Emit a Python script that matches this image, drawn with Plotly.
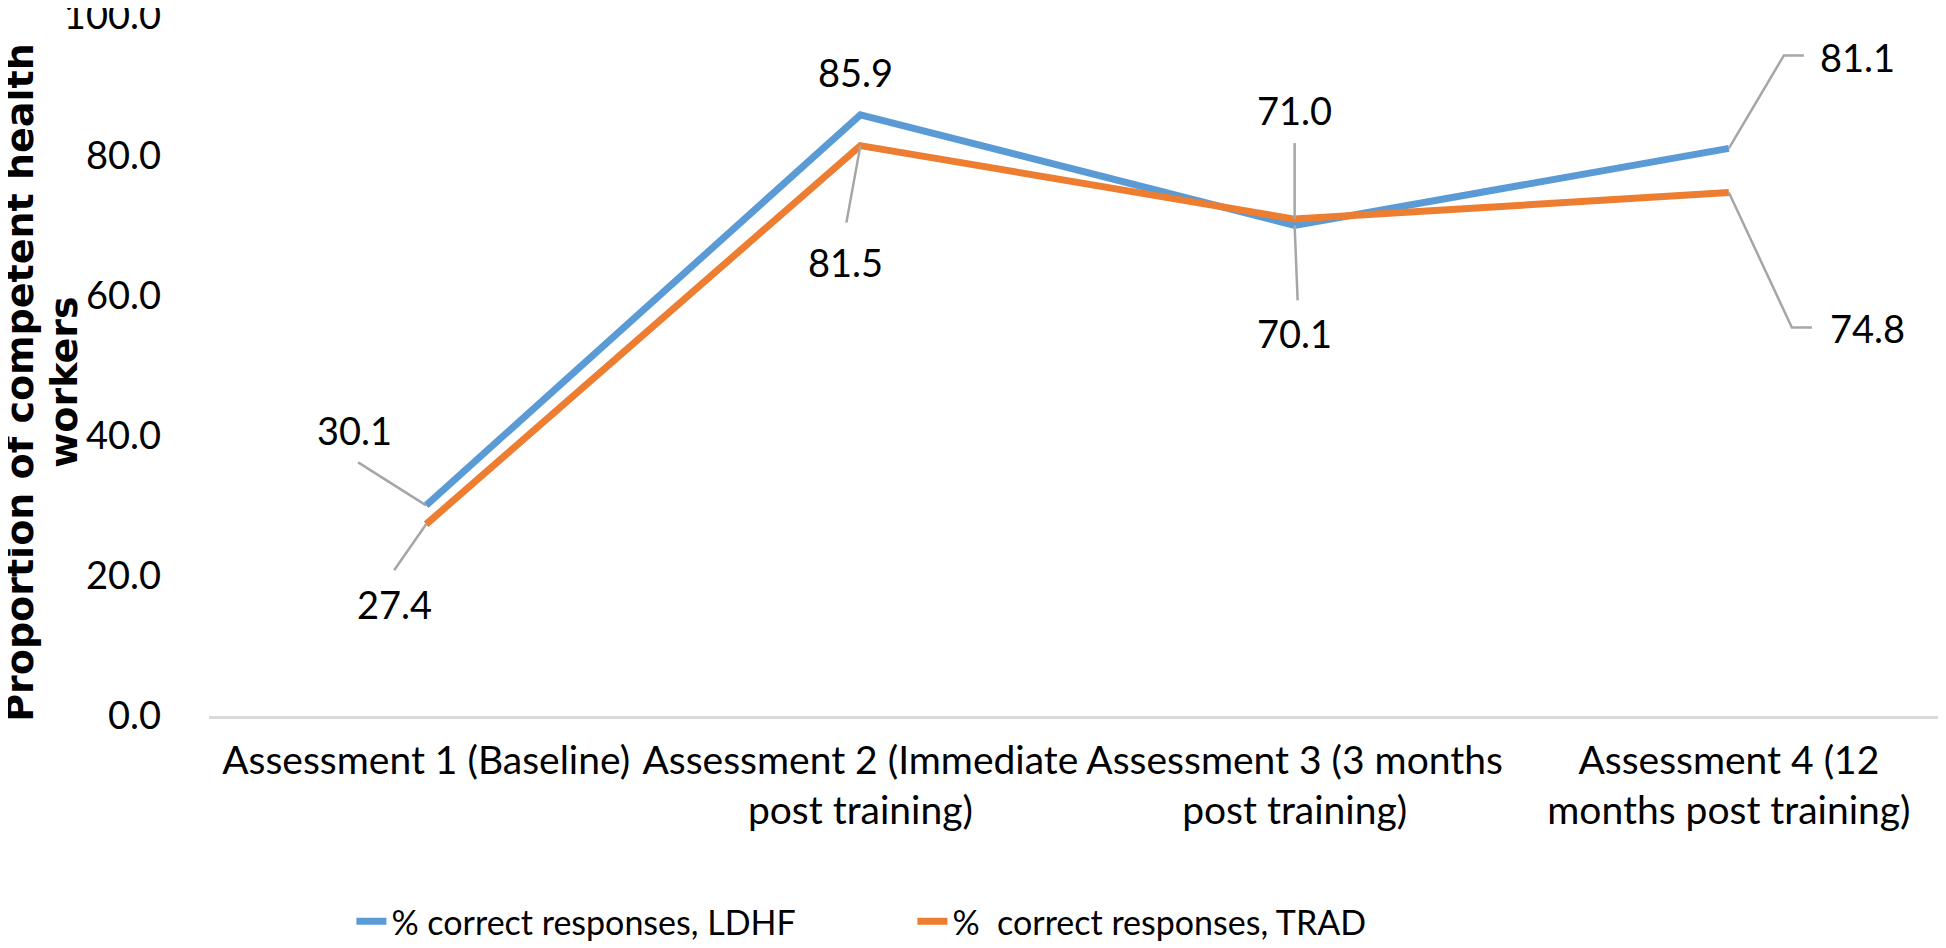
import plotly.graph_objects as go

categories = [
    "Assessment 1 (Baseline)",
    "Assessment 2 (Immediate<br>post training)",
    "Assessment 3 (3 months<br>post training)",
    "Assessment 4 (12<br>months post training)",
]
ldhf = [30.1, 85.9, 70.1, 81.1]
trad = [27.4, 81.5, 71.0, 74.8]
y_ticks = [0, 20, 40, 60, 80, 100]
y_tick_labels = ["0.0", "20.0", "40.0", "60.0", "80.0", "100.0"]

BLUE = "#5B9BD5"
ORANGE = "#ED7D31"
LEADER = "#A6A6A6"
FONT = "Lato, 'Open Sans', sans-serif"
TITLE_FONT = "'DejaVu Sans', sans-serif"

# label placement (pixel offsets from the data point, anchor) and leader paths
ldhf_label_off = [(-72, 75, "center"), (-5, 43, "center"), (0, -108, "center"), (89, 91, "left")]
ldhf_leaders = ["M -68,43 L 0,0", None, "M 0,0 L 3,-75", "M 0,0 L 55,93 L 75,93"]
trad_label_off = [(-32, -80, "center"), (-15, -116, "center"), (0, 109, "center"), (99, -135, "left")]
trad_leaders = ["M -32,-46 L 0,0", "M 0,0 L -14,-77", "M 0,76 L 0,0", "M 0,0 L 63,-135 L 83,-135"]

fig = go.Figure()
fig.add_trace(go.Scatter(x=categories, y=ldhf, mode="lines",
                         name="% correct responses, LDHF",
                         line=dict(color=BLUE, width=7)))
fig.add_trace(go.Scatter(x=categories, y=trad, mode="lines",
                         name="%\u00a0 correct responses, TRAD",
                         line=dict(color=ORANGE, width=7)))

shapes = []
annotations = []
for vals, offs, leaders in [(ldhf, ldhf_label_off, ldhf_leaders),
                            (trad, trad_label_off, trad_leaders)]:
    for cat, v, (dx, dy, anchor), path in zip(categories, vals, offs, leaders):
        annotations.append(dict(x=cat, y=v, xref="x", yref="y", text=f"{v:.1f}",
                                showarrow=False, xshift=dx, yshift=dy,
                                xanchor=anchor, yanchor="middle",
                                font=dict(family=FONT, size=38, color="#000000")))
        if path:
            shapes.append(dict(type="path", xref="x", yref="y",
                               xsizemode="pixel", ysizemode="pixel",
                               xanchor=cat, yanchor=v, path=path,
                               line=dict(color=LEADER, width=2.5)))

# y-axis title (two lines, Excel-like spacing)
annotations.append(dict(text="<b>Proportion of competent health</b>", xref="paper", yref="paper",
                        x=0, y=0.476, xshift=-189, showarrow=False, textangle=-90,
                        xanchor="center", yanchor="middle",
                        font=dict(family=TITLE_FONT, size=38, color="#000000")))
annotations.append(dict(text="<b>workers</b>", xref="paper", yref="paper",
                        x=0, y=0.476, xshift=-145, showarrow=False, textangle=-90,
                        xanchor="center", yanchor="middle",
                        font=dict(family=TITLE_FONT, size=38, color="#000000")))

fig.update_layout(
    template="none",
    width=1938, height=940,
    margin=dict(l=201, r=0, t=8, b=232, autoexpand=False),
    paper_bgcolor="white", plot_bgcolor="white",
    font=dict(family=FONT, color="#000000"),
    showlegend=True,
    legend=dict(orientation="h", xref="container", yref="container",
                x=0.1772, y=0.028, xanchor="left", yanchor="middle",
                bgcolor="rgba(0,0,0,0)",
                entrywidth=516, font=dict(family=FONT, size=34, color="#000000")),
    xaxis=dict(range=[-0.5, 3.5], showgrid=False, showline=True, linecolor="#D9D9D9",
               linewidth=2.5, ticks="", tickfont=dict(family=FONT, size=39, color="#000000"),
               ticklabelstandoff=8, zeroline=False, automargin=False),
    yaxis=dict(range=[0, 100.02], tickvals=y_ticks, ticktext=y_tick_labels,
               showgrid=False, zeroline=False, showline=False, ticks="",
               tickfont=dict(family=FONT, size=38, color="#000000"),
               ticklabelstandoff=47, ticklabeloverflow="allow", automargin=False),
    shapes=shapes,
    annotations=annotations,
)

fig.write_html("out.html")
